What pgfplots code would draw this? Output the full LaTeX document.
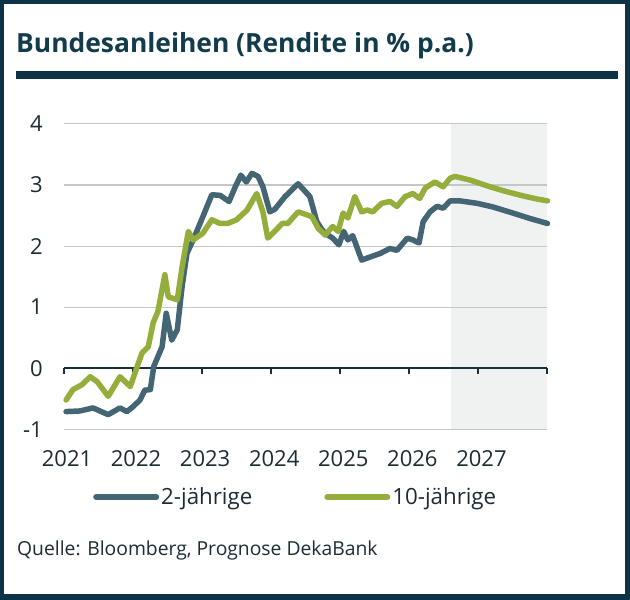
\documentclass[border=0pt]{standalone}
\usepackage{fontspec}
\setmainfont{Open Sans}
\usepackage{pgfplots}
\usepackage{pgfplotstable}
\pgfplotsset{compat=1.18}
\definecolor{deka}{HTML}{0C3446}
\definecolor{titlec}{HTML}{123C4C}
\definecolor{twoy}{HTML}{436574}
\definecolor{teny}{HTML}{95AD3B}
\definecolor{gridc}{HTML}{C4C6C7}
\definecolor{fcbg}{HTML}{F0F1F1}
\definecolor{axisc}{HTML}{1A2F3A}
\definecolor{labc}{HTML}{1E2B33}

\pgfplotstableread{
x y
2021.03 -0.71
2021.23 -0.70
2021.42 -0.65
2021.64 -0.76
2021.81 -0.65
2021.91 -0.71
2022.00 -0.63
2022.10 -0.52
2022.17 -0.36
2022.25 -0.35
2022.30 0.03
2022.36 0.19
2022.42 0.35
2022.48 0.90
2022.56 0.46
2022.64 0.63
2022.71 1.34
2022.78 1.88
2022.87 2.10
2023.01 2.48
2023.14 2.84
2023.26 2.83
2023.39 2.73
2023.48 2.97
2023.56 3.16
2023.64 3.05
2023.72 3.19
2023.81 3.14
2023.88 2.97
2023.98 2.56
2024.05 2.60
2024.20 2.81
2024.39 3.02
2024.56 2.81
2024.66 2.40
2024.74 2.26
2024.82 2.18
2024.89 2.13
2024.98 2.02
2025.05 2.24
2025.11 2.10
2025.18 2.17
2025.31 1.77
2025.43 1.82
2025.58 1.88
2025.72 1.96
2025.82 1.93
2025.97 2.13
2026.05 2.10
2026.14 2.05
2026.20 2.40
2026.30 2.56
2026.40 2.65
2026.49 2.62
2026.59 2.74
2026.73 2.74
2026.98 2.70
2027.21 2.64
2027.50 2.54
2027.75 2.45
2028.00 2.37
}\twoyear

\pgfplotstableread{
x y
2021.03 -0.52
2021.13 -0.35
2021.26 -0.27
2021.38 -0.14
2021.48 -0.22
2021.64 -0.46
2021.81 -0.14
2021.96 -0.30
2022.06 0.03
2022.13 0.25
2022.22 0.35
2022.29 0.74
2022.36 0.93
2022.46 1.53
2022.51 1.17
2022.64 1.12
2022.71 1.66
2022.80 2.24
2022.87 2.10
2023.01 2.21
2023.14 2.43
2023.26 2.37
2023.37 2.37
2023.50 2.43
2023.65 2.59
2023.79 2.86
2023.88 2.56
2023.95 2.13
2024.05 2.24
2024.16 2.37
2024.24 2.37
2024.39 2.56
2024.52 2.51
2024.59 2.48
2024.68 2.29
2024.78 2.18
2024.89 2.32
2024.97 2.24
2025.04 2.54
2025.11 2.46
2025.21 2.81
2025.31 2.56
2025.39 2.59
2025.47 2.56
2025.60 2.70
2025.72 2.73
2025.82 2.65
2025.94 2.81
2026.05 2.86
2026.15 2.78
2026.23 2.95
2026.37 3.05
2026.49 2.97
2026.59 3.11
2026.66 3.14
2026.88 3.08
2027.17 2.97
2027.41 2.89
2027.65 2.82
2027.85 2.77
2028.00 2.74
}\tenyear

\begin{document}
\begin{tikzpicture}
\fill[deka] (0pt,0pt) rectangle (630pt,600pt);
\fill[white] (4pt,6pt) rectangle (625pt,596pt);
\node[anchor=base west, text=titlec, font=\fontsize{26.4}{32}\selectfont\bfseries, inner sep=0pt] at (16pt,547pt) {Bundesanleihen (Rendite in \% p.a.)};
\fill[deka] (16pt,521pt) rectangle (618pt,529pt);
\node[anchor=base west, text=labc, font=\fontsize{19.3}{23}\selectfont, inner sep=0pt] at (17pt,44pt) {Quelle: Bloomberg, Prognose DekaBank};
\begin{axis}[
  at={(64pt,170.7pt)}, anchor=south west,
  scale only axis, width=483.5pt, height=305.4pt,
  xmin=2021, xmax=2028, ymin=-1, ymax=4,
  axis line style={draw=none},
  major tick length=0pt,
  xtick={2021,2022,2023,2024,2025,2026,2027}, ytick={-1,0,1,2,3,4},
  /pgf/number format/assume math mode=true,
  /pgf/number format/1000 sep={},
  tick label style={font=\fontsize{22}{26}\selectfont, text=labc},
  xticklabel style={anchor=north, inner sep=0pt, yshift=-21pt, xshift=3pt},
  yticklabel style={anchor=east, inner sep=0pt, xshift=-21pt},
  clip=false,
  legend columns=2,
  legend style={draw=none, fill=none, at={(0.06,-0.2217)}, anchor=west,
    inner sep=0pt, font=\fontsize{22.3}{26}\selectfont, text=labc,
    nodes={inner sep=2pt},
    /tikz/every even column/.append style={column sep=70pt}},
  legend image code/.code={\draw[#1, line width=6pt, line cap=round] (0pt,0pt) -- (60pt,0pt);},
]
\fill[fcbg] (axis cs:2026.6,-1) rectangle (axis cs:2028,4);
\draw[gridc, line width=1.1pt] (axis cs:2021,-1) -- (axis cs:2028,-1);
\draw[gridc, line width=1.1pt] (axis cs:2021,1) -- (axis cs:2028,1);
\draw[gridc, line width=1.1pt] (axis cs:2021,2) -- (axis cs:2028,2);
\draw[gridc, line width=1.1pt] (axis cs:2021,3) -- (axis cs:2028,3);
\draw[gridc, line width=1.1pt] (axis cs:2021,4) -- (axis cs:2028,4);
\draw[axisc, line width=2pt] (axis cs:2021,0) -- (axis cs:2028,0);
\draw[axisc, line width=2pt] (axis cs:2021,0) -- (axis cs:2021,-0.1);
\draw[axisc, line width=2pt] (axis cs:2022,0) -- (axis cs:2022,-0.1);
\draw[axisc, line width=2pt] (axis cs:2023,0) -- (axis cs:2023,-0.1);
\draw[axisc, line width=2pt] (axis cs:2024,0) -- (axis cs:2024,-0.1);
\draw[axisc, line width=2pt] (axis cs:2025,0) -- (axis cs:2025,-0.1);
\draw[axisc, line width=2pt] (axis cs:2026,0) -- (axis cs:2026,-0.1);
\draw[axisc, line width=2pt] (axis cs:2027,0) -- (axis cs:2027,-0.1);
\draw[axisc, line width=2pt] (axis cs:2028,0) -- (axis cs:2028,-0.1);
\addplot[twoy, line width=5.5pt, line join=round, line cap=round] table[x=x,y=y] {\twoyear};
\addlegendentry{2-jährige}
\addplot[teny, line width=5.5pt, line join=round, line cap=round] table[x=x,y=y] {\tenyear};
\addlegendentry{10-jährige}
\end{axis}
\end{tikzpicture}
\end{document}
